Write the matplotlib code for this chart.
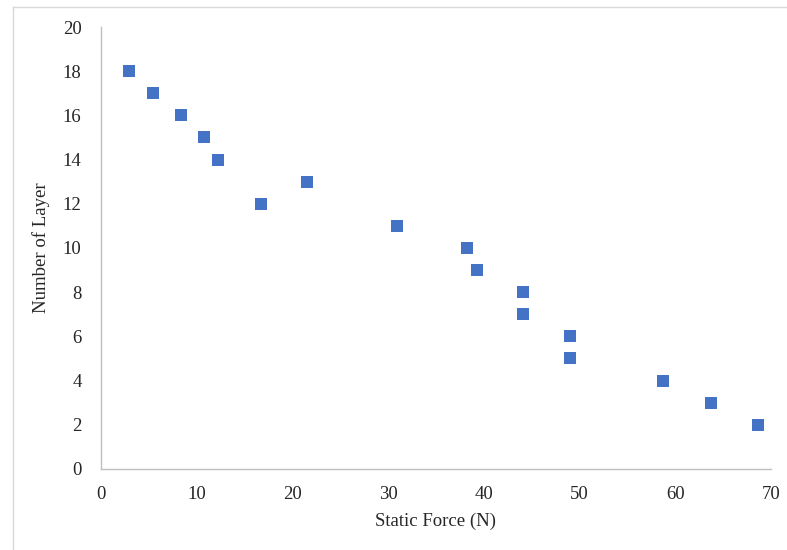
import matplotlib.pyplot as plt
from matplotlib.lines import Line2D

plt.rcParams['font.family'] = ['Liberation Serif', 'DejaVu Serif']

# 정적 하중 vs 층 수
static_force = [2.9, 5.4, 8.4, 10.8, 12.2, 16.7, 21.5, 30.9, 38.2, 39.3,
                44.1, 44.1, 49.0, 49.0, 58.7, 63.7, 68.6]
num_layer = [18, 17, 16, 15, 14, 12, 13, 11, 10, 9, 8, 7, 6, 5, 4, 3, 2]

fig = plt.figure(figsize=(7.87, 5.5), dpi=100)
ax = fig.add_axes([0.1283, 0.1473, 0.8514, 0.8036])

ax.plot(static_force, num_layer, linestyle='none', marker='s',
        markersize=8.6, color='#4472C4', markeredgewidth=0)

ax.set_xlim(0, 70)
ax.set_ylim(0, 20)
ax.set_xticks(range(0, 71, 10))
ax.set_yticks(range(0, 21, 2))
ax.tick_params(length=0, labelsize=13.5, colors='#262626')
ax.tick_params(axis='x', pad=12)
ax.tick_params(axis='y', pad=14)
for s in ['top', 'right']:
    ax.spines[s].set_visible(False)
for s in ['left', 'bottom']:
    ax.spines[s].set_color('#BFBFBF')
    ax.spines[s].set_linewidth(1)

ax.set_xlabel('Static Force (N)', fontsize=13.5, color='#262626', labelpad=7)
ax.set_ylabel('Number of Layer', fontsize=13.5, color='#262626', labelpad=9)

# 바깥 테두리
fig.add_artist(Line2D([13 / 787, 13 / 787], [0, 1 - 7 / 550], color='#D9D9D9', lw=1))
fig.add_artist(Line2D([13 / 787, 1], [1 - 7 / 550, 1 - 7 / 550], color='#D9D9D9', lw=1))

fig.savefig('out.png', dpi=100)
